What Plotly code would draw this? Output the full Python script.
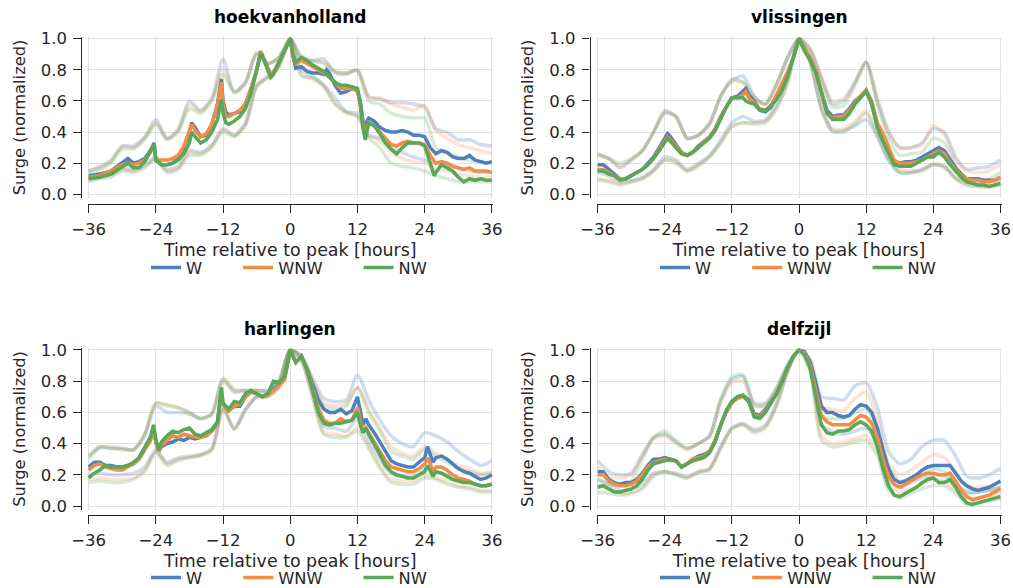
import plotly.graph_objects as go

# ---------------- data ----------------
STATIONS = ["hoekvanholland", "vlissingen", "harlingen", "delfzijl"]
DIRECTIONS = ["W", "WNW", "NW"]
TICKS_X = [-36, -24, -12, 0, 12, 24, 36]
TICKS_Y = [0.0, 0.2, 0.4, 0.6, 0.8, 1.0]

# time grid (hours) used by the faint spread lines
T_BAND = list(range(-36, 37, 2))

# ---- hoekvanholland ----
T_HOEK = [-36, -34, -32, -30, -29, -28, -27, -26, -25, -24.3,
          -24, -23, -22, -21, -20, -19, -18, -17.6, -17, -16,
          -15, -14, -13, -12.3, -12, -11.5, -11, -10, -9, -8,
          -7, -6, -5.3, -5, -4, -3.5, -3, -2, -1, 0,
          0.5, 1, 2, 3, 4, 5, 6, 6.5, 7, 8,
          9, 10, 11, 12, 12.5, 13, 13.4, 14, 15, 16,
          17, 18, 19, 20, 21, 22, 23, 24, 25, 25.7,
          26, 27, 28, 29, 30, 31, 32, 33, 34, 35, 36]
W_HOEK = [0.12, 0.13, 0.15, 0.20, 0.23, 0.20, 0.21, 0.23, 0.28, 0.33,
          0.22, 0.19, 0.19, 0.20, 0.23, 0.30, 0.40, 0.46, 0.43, 0.37,
          0.38, 0.45, 0.58, 0.74, 0.60, 0.53, 0.51, 0.52, 0.53, 0.58,
          0.68, 0.80, 0.91, 0.89, 0.80, 0.77, 0.78, 0.85, 0.92, 1.00,
          0.88, 0.81, 0.82, 0.79, 0.78, 0.78, 0.77, 0.80, 0.78, 0.70,
          0.65, 0.66, 0.68, 0.67, 0.60, 0.47, 0.45, 0.49, 0.47, 0.43,
          0.41, 0.40, 0.40, 0.41, 0.40, 0.38, 0.38, 0.37, 0.30, 0.27,
          0.26, 0.28, 0.27, 0.24, 0.23, 0.23, 0.25, 0.22, 0.21, 0.20, 0.21]
WNW_HOEK = [0.11, 0.12, 0.15, 0.19, 0.20, 0.19, 0.20, 0.22, 0.27, 0.32,
            0.22, 0.22, 0.22, 0.23, 0.25, 0.31, 0.40, 0.45, 0.41, 0.37,
            0.39, 0.45, 0.57, 0.72, 0.58, 0.50, 0.50, 0.52, 0.54, 0.58,
            0.68, 0.79, 0.92, 0.90, 0.81, 0.77, 0.78, 0.85, 0.92, 1.00,
            0.88, 0.84, 0.86, 0.84, 0.82, 0.80, 0.78, 0.77, 0.75, 0.72,
            0.68, 0.68, 0.68, 0.66, 0.58, 0.45, 0.38, 0.46, 0.44, 0.40,
            0.36, 0.32, 0.31, 0.33, 0.34, 0.33, 0.33, 0.32, 0.25, 0.21,
            0.20, 0.21, 0.20, 0.18, 0.17, 0.16, 0.17, 0.15, 0.15, 0.15, 0.14]
NW_HOEK = [0.10, 0.11, 0.13, 0.18, 0.20, 0.17, 0.17, 0.21, 0.27, 0.32,
           0.22, 0.19, 0.19, 0.20, 0.22, 0.26, 0.33, 0.40, 0.37, 0.33,
           0.35, 0.40, 0.48, 0.61, 0.52, 0.46, 0.45, 0.47, 0.50, 0.55,
           0.65, 0.79, 0.90, 0.89, 0.80, 0.75, 0.77, 0.84, 0.92, 1.00,
           0.90, 0.85, 0.88, 0.86, 0.83, 0.81, 0.79, 0.77, 0.75, 0.72,
           0.70, 0.70, 0.69, 0.68, 0.58, 0.42, 0.35, 0.46, 0.44, 0.39,
           0.33, 0.29, 0.26, 0.30, 0.33, 0.33, 0.33, 0.31, 0.20, 0.12,
           0.14, 0.19, 0.17, 0.15, 0.11, 0.08, 0.10, 0.09, 0.10, 0.09, 0.09]
W_HI_HOEK = [0.15, 0.18, 0.22, 0.31, 0.31, 0.37, 0.48, 0.36, 0.42, 0.60,
             0.54, 0.62, 0.87, 0.66, 0.72, 0.90, 0.84, 0.88, 1.00, 0.87,
             0.86, 0.87, 0.78, 0.77, 0.80, 0.63, 0.61, 0.59, 0.59, 0.58,
             0.56, 0.42, 0.40, 0.35, 0.35, 0.32, 0.31]
WNW_HI_HOEK = [0.15, 0.17, 0.21, 0.31, 0.30, 0.36, 0.46, 0.36, 0.41, 0.58,
               0.53, 0.61, 0.81, 0.66, 0.72, 0.90, 0.84, 0.88, 1.00, 0.87,
               0.85, 0.85, 0.79, 0.78, 0.80, 0.62, 0.62, 0.58, 0.56, 0.54,
               0.57, 0.41, 0.36, 0.32, 0.30, 0.28, 0.26]
NW_HI_HOEK = [0.14, 0.16, 0.20, 0.29, 0.29, 0.35, 0.45, 0.35, 0.40, 0.55,
              0.52, 0.60, 0.77, 0.65, 0.71, 0.91, 0.84, 0.88, 1.00, 0.89,
              0.86, 0.84, 0.79, 0.78, 0.79, 0.60, 0.58, 0.52, 0.50, 0.49,
              0.49, 0.30, 0.27, 0.24, 0.22, 0.21, 0.20]
W_LO_HOEK = [0.10, 0.12, 0.13, 0.17, 0.16, 0.19, 0.24, 0.16, 0.18, 0.28,
             0.27, 0.32, 0.42, 0.38, 0.46, 0.70, 0.76, 0.83, 1.00, 0.76,
             0.75, 0.70, 0.62, 0.53, 0.52, 0.38, 0.36, 0.30, 0.27, 0.24,
             0.22, 0.20, 0.19, 0.17, 0.15, 0.14, 0.14]
WNW_LO_HOEK = [0.09, 0.11, 0.12, 0.16, 0.15, 0.18, 0.23, 0.15, 0.17, 0.27,
               0.26, 0.31, 0.42, 0.38, 0.45, 0.70, 0.75, 0.82, 1.00, 0.78,
               0.74, 0.69, 0.58, 0.52, 0.50, 0.38, 0.34, 0.27, 0.23, 0.21,
               0.20, 0.16, 0.15, 0.13, 0.12, 0.11, 0.11]
NW_LO_HOEK = [0.08, 0.10, 0.11, 0.15, 0.14, 0.17, 0.22, 0.14, 0.16, 0.25,
              0.25, 0.30, 0.40, 0.37, 0.44, 0.69, 0.75, 0.82, 1.00, 0.80,
              0.76, 0.70, 0.58, 0.53, 0.50, 0.36, 0.30, 0.20, 0.18, 0.17,
              0.15, 0.12, 0.10, 0.08, 0.08, 0.08, 0.08]

# ---- vlissingen ----
T_VLIS = [-36, -35, -34, -33, -32, -31, -30, -29, -28, -27,
          -26, -25, -24, -23.5, -23, -22, -21, -20, -19, -18,
          -17, -16, -15, -14, -13, -12, -11, -10, -9.5, -9,
          -8, -7, -6, -5, -4, -3, -2, -1, 0, 1,
          2, 3, 4, 5, 6, 7, 8, 9, 10, 11,
          12, 13, 14, 15, 16, 17, 18, 19, 20, 21,
          22, 23, 24, 25, 26, 27, 28, 29, 30, 31,
          32, 33, 34, 35, 36]
W_VLIS = [0.19, 0.19, 0.16, 0.13, 0.10, 0.10, 0.12, 0.14, 0.16, 0.20,
          0.24, 0.30, 0.36, 0.39, 0.37, 0.32, 0.27, 0.25, 0.27, 0.31,
          0.34, 0.37, 0.42, 0.50, 0.56, 0.62, 0.63, 0.66, 0.68, 0.64,
          0.60, 0.54, 0.53, 0.56, 0.63, 0.70, 0.78, 0.88, 1.00, 0.93,
          0.87, 0.80, 0.66, 0.54, 0.50, 0.51, 0.51, 0.55, 0.60, 0.63,
          0.67, 0.58, 0.44, 0.38, 0.28, 0.21, 0.20, 0.21, 0.21, 0.22,
          0.24, 0.26, 0.28, 0.30, 0.28, 0.22, 0.17, 0.13, 0.10, 0.10,
          0.10, 0.09, 0.09, 0.09, 0.11]
WNW_VLIS = [0.16, 0.16, 0.14, 0.12, 0.10, 0.10, 0.12, 0.14, 0.16, 0.19,
            0.23, 0.29, 0.34, 0.37, 0.35, 0.31, 0.27, 0.25, 0.27, 0.30,
            0.34, 0.37, 0.42, 0.50, 0.56, 0.62, 0.62, 0.64, 0.66, 0.62,
            0.59, 0.55, 0.54, 0.57, 0.64, 0.71, 0.79, 0.88, 1.00, 0.94,
            0.88, 0.80, 0.65, 0.52, 0.49, 0.50, 0.50, 0.54, 0.59, 0.63,
            0.67, 0.60, 0.46, 0.39, 0.30, 0.22, 0.20, 0.20, 0.20, 0.21,
            0.22, 0.24, 0.26, 0.28, 0.26, 0.20, 0.16, 0.12, 0.10, 0.09,
            0.09, 0.08, 0.08, 0.09, 0.11]
NW_VLIS = [0.15, 0.15, 0.13, 0.12, 0.09, 0.10, 0.12, 0.14, 0.16, 0.19,
           0.23, 0.28, 0.33, 0.36, 0.34, 0.30, 0.26, 0.25, 0.27, 0.30,
           0.33, 0.36, 0.41, 0.49, 0.56, 0.62, 0.62, 0.62, 0.60, 0.59,
           0.58, 0.54, 0.54, 0.57, 0.61, 0.67, 0.76, 0.88, 1.00, 0.92,
           0.86, 0.78, 0.64, 0.52, 0.48, 0.48, 0.48, 0.52, 0.58, 0.62,
           0.66, 0.58, 0.43, 0.34, 0.26, 0.19, 0.18, 0.18, 0.18, 0.20,
           0.22, 0.24, 0.24, 0.27, 0.24, 0.19, 0.15, 0.11, 0.08, 0.07,
           0.06, 0.06, 0.05, 0.06, 0.07]
W_HI_VLIS = [0.26, 0.23, 0.17, 0.22, 0.28, 0.40, 0.52, 0.50, 0.36, 0.38,
             0.45, 0.63, 0.73, 0.76, 0.63, 0.58, 0.71, 0.88, 1.00, 0.93,
             0.75, 0.58, 0.60, 0.72, 0.85, 0.60, 0.40, 0.30, 0.30, 0.33,
             0.42, 0.40, 0.24, 0.16, 0.17, 0.18, 0.22]
WNW_HI_VLIS = [0.26, 0.23, 0.18, 0.22, 0.28, 0.40, 0.53, 0.50, 0.36, 0.38,
               0.45, 0.63, 0.72, 0.72, 0.62, 0.58, 0.71, 0.88, 1.00, 0.94,
               0.76, 0.60, 0.62, 0.72, 0.85, 0.62, 0.41, 0.30, 0.30, 0.32,
               0.44, 0.38, 0.22, 0.15, 0.14, 0.15, 0.19]
NW_HI_VLIS = [0.25, 0.23, 0.20, 0.23, 0.28, 0.40, 0.54, 0.50, 0.36, 0.38,
              0.46, 0.63, 0.74, 0.72, 0.62, 0.58, 0.70, 0.88, 1.00, 0.92,
              0.73, 0.56, 0.57, 0.70, 0.84, 0.58, 0.36, 0.25, 0.26, 0.27,
              0.36, 0.33, 0.18, 0.10, 0.09, 0.10, 0.14]
W_LO_VLIS = [0.14, 0.12, 0.08, 0.09, 0.11, 0.16, 0.24, 0.22, 0.16, 0.20,
             0.25, 0.35, 0.46, 0.50, 0.47, 0.48, 0.58, 0.74, 1.00, 0.86,
             0.56, 0.41, 0.41, 0.44, 0.48, 0.37, 0.22, 0.14, 0.14, 0.16,
             0.19, 0.18, 0.11, 0.08, 0.08, 0.08, 0.09]
WNW_LO_VLIS = [0.10, 0.09, 0.07, 0.08, 0.10, 0.15, 0.22, 0.21, 0.15, 0.19,
               0.24, 0.33, 0.44, 0.46, 0.46, 0.47, 0.56, 0.72, 1.00, 0.85,
               0.55, 0.42, 0.42, 0.47, 0.54, 0.40, 0.24, 0.16, 0.15, 0.16,
               0.20, 0.18, 0.10, 0.06, 0.05, 0.05, 0.07]
NW_LO_VLIS = [0.09, 0.08, 0.06, 0.08, 0.10, 0.15, 0.22, 0.20, 0.15, 0.18,
              0.24, 0.33, 0.43, 0.46, 0.45, 0.46, 0.55, 0.72, 1.00, 0.84,
              0.54, 0.40, 0.40, 0.45, 0.52, 0.38, 0.22, 0.14, 0.14, 0.15,
              0.19, 0.17, 0.10, 0.06, 0.05, 0.05, 0.06]

# ---- harlingen ----
T_HARL = [-36, -35, -34, -33, -32, -31, -30, -29, -28, -27,
          -26, -25, -24.4, -24, -23.5, -23, -22, -21, -20, -19,
          -18, -17, -16, -15, -14, -13, -12.3, -12, -11, -10,
          -9, -8, -7, -6, -5, -4, -3, -2, -1, 0,
          1, 2, 3, 4, 5, 6, 7, 8, 9, 10,
          11, 12, 12.5, 13, 13.5, 14, 15, 16, 17, 18,
          19, 20, 21, 22, 23, 24, 24.5, 25, 25.5, 26,
          27, 28, 29, 30, 31, 32, 33, 34, 35, 36]
W_HARL = [0.25, 0.28, 0.28, 0.26, 0.26, 0.25, 0.25, 0.26, 0.27, 0.30,
          0.36, 0.42, 0.50, 0.41, 0.35, 0.38, 0.40, 0.41, 0.43, 0.42,
          0.44, 0.43, 0.44, 0.45, 0.48, 0.53, 0.73, 0.65, 0.61, 0.64,
          0.64, 0.70, 0.73, 0.72, 0.70, 0.72, 0.75, 0.78, 0.82, 1.00,
          0.92, 0.96, 0.88, 0.78, 0.68, 0.62, 0.60, 0.60, 0.62, 0.59,
          0.61, 0.70, 0.62, 0.52, 0.56, 0.52, 0.47, 0.41, 0.34, 0.29,
          0.27, 0.26, 0.25, 0.25, 0.28, 0.31, 0.38, 0.33, 0.28, 0.31,
          0.32, 0.30, 0.27, 0.24, 0.22, 0.21, 0.19, 0.17, 0.18, 0.20]
WNW_HARL = [0.23, 0.26, 0.27, 0.25, 0.24, 0.23, 0.23, 0.25, 0.27, 0.30,
            0.36, 0.42, 0.50, 0.41, 0.35, 0.39, 0.42, 0.45, 0.44, 0.46,
            0.45, 0.44, 0.44, 0.45, 0.48, 0.53, 0.73, 0.65, 0.61, 0.64,
            0.65, 0.70, 0.73, 0.72, 0.70, 0.71, 0.74, 0.77, 0.81, 1.00,
            0.92, 0.96, 0.88, 0.76, 0.63, 0.55, 0.53, 0.53, 0.56, 0.54,
            0.55, 0.63, 0.56, 0.47, 0.50, 0.47, 0.42, 0.36, 0.29, 0.25,
            0.24, 0.23, 0.22, 0.22, 0.24, 0.27, 0.31, 0.27, 0.22, 0.25,
            0.25, 0.23, 0.20, 0.18, 0.17, 0.16, 0.14, 0.13, 0.13, 0.14]
NW_HARL = [0.18, 0.21, 0.23, 0.26, 0.25, 0.25, 0.25, 0.26, 0.28, 0.31,
           0.37, 0.44, 0.52, 0.43, 0.36, 0.41, 0.45, 0.48, 0.47, 0.49,
           0.50, 0.46, 0.45, 0.47, 0.49, 0.54, 0.76, 0.66, 0.62, 0.67,
           0.66, 0.72, 0.74, 0.72, 0.70, 0.72, 0.80, 0.79, 0.83, 1.00,
           0.92, 0.96, 0.87, 0.74, 0.60, 0.53, 0.52, 0.53, 0.53, 0.54,
           0.55, 0.60, 0.52, 0.47, 0.50, 0.46, 0.40, 0.33, 0.26, 0.22,
           0.20, 0.19, 0.18, 0.18, 0.20, 0.22, 0.26, 0.22, 0.19, 0.22,
           0.21, 0.19, 0.17, 0.16, 0.15, 0.15, 0.14, 0.13, 0.13, 0.14]
W_HI_HARL = [0.32, 0.38, 0.37, 0.37, 0.36, 0.45, 0.64, 0.60, 0.60, 0.59,
             0.56, 0.59, 0.80, 0.73, 0.74, 0.74, 0.74, 0.80, 1.00, 0.96,
             0.82, 0.69, 0.67, 0.68, 0.84, 0.68, 0.55, 0.45, 0.40, 0.38,
             0.47, 0.45, 0.41, 0.35, 0.30, 0.26, 0.29]
WNW_HI_HARL = [0.32, 0.38, 0.38, 0.37, 0.36, 0.46, 0.66, 0.64, 0.63, 0.60,
               0.56, 0.59, 0.81, 0.74, 0.74, 0.74, 0.74, 0.80, 1.00, 0.96,
               0.80, 0.66, 0.64, 0.66, 0.76, 0.62, 0.50, 0.38, 0.34, 0.32,
               0.38, 0.34, 0.30, 0.26, 0.24, 0.21, 0.22]
NW_HI_HARL = [0.30, 0.37, 0.37, 0.36, 0.36, 0.46, 0.66, 0.65, 0.63, 0.60,
              0.56, 0.59, 0.82, 0.75, 0.74, 0.74, 0.74, 0.81, 1.00, 0.96,
              0.79, 0.64, 0.62, 0.64, 0.76, 0.60, 0.48, 0.35, 0.32, 0.30,
              0.36, 0.32, 0.28, 0.24, 0.22, 0.20, 0.21]
W_LO_HARL = [0.20, 0.21, 0.20, 0.20, 0.21, 0.25, 0.36, 0.28, 0.31, 0.32,
             0.33, 0.37, 0.62, 0.50, 0.62, 0.70, 0.71, 0.77, 1.00, 0.94,
             0.72, 0.51, 0.50, 0.48, 0.56, 0.42, 0.30, 0.21, 0.19, 0.19,
             0.24, 0.22, 0.20, 0.17, 0.15, 0.13, 0.14]
WNW_LO_HARL = [0.17, 0.18, 0.17, 0.17, 0.18, 0.23, 0.35, 0.27, 0.30, 0.31,
               0.33, 0.36, 0.62, 0.49, 0.62, 0.70, 0.70, 0.76, 1.00, 0.93,
               0.70, 0.47, 0.46, 0.45, 0.50, 0.39, 0.26, 0.17, 0.16, 0.16,
               0.20, 0.18, 0.16, 0.13, 0.12, 0.10, 0.10]
NW_LO_HARL = [0.15, 0.16, 0.15, 0.15, 0.17, 0.22, 0.34, 0.26, 0.29, 0.31,
              0.32, 0.36, 0.63, 0.49, 0.61, 0.70, 0.70, 0.76, 1.00, 0.93,
              0.69, 0.46, 0.44, 0.44, 0.48, 0.37, 0.24, 0.15, 0.14, 0.14,
              0.18, 0.17, 0.14, 0.12, 0.11, 0.09, 0.09]

# ---- delfzijl ----
T_DELF = list(range(-36, 37))
W_DELF = [0.22, 0.22, 0.17, 0.15, 0.14, 0.15, 0.15, 0.17, 0.21, 0.26,
          0.30, 0.30, 0.31, 0.30, 0.29, 0.25, 0.27, 0.30, 0.32, 0.33,
          0.35, 0.42, 0.52, 0.61, 0.67, 0.70, 0.71, 0.68, 0.59, 0.58,
          0.62, 0.67, 0.72, 0.80, 0.89, 0.96, 1.00, 0.99, 0.92, 0.79,
          0.64, 0.60, 0.60, 0.58, 0.57, 0.58, 0.62, 0.65, 0.64, 0.60,
          0.50, 0.36, 0.24, 0.17, 0.15, 0.16, 0.18, 0.20, 0.23, 0.25,
          0.26, 0.26, 0.26, 0.26, 0.21, 0.16, 0.13, 0.11, 0.10, 0.11,
          0.12, 0.14, 0.16]
WNW_DELF = [0.20, 0.20, 0.16, 0.14, 0.13, 0.13, 0.14, 0.16, 0.20, 0.25,
            0.28, 0.29, 0.30, 0.29, 0.29, 0.25, 0.27, 0.30, 0.31, 0.32,
            0.35, 0.42, 0.52, 0.60, 0.66, 0.69, 0.70, 0.67, 0.58, 0.57,
            0.61, 0.66, 0.72, 0.80, 0.89, 0.96, 1.00, 0.98, 0.90, 0.74,
            0.58, 0.54, 0.52, 0.52, 0.52, 0.52, 0.55, 0.58, 0.57, 0.53,
            0.44, 0.30, 0.19, 0.14, 0.12, 0.14, 0.16, 0.18, 0.20, 0.21,
            0.21, 0.20, 0.20, 0.21, 0.16, 0.10, 0.06, 0.04, 0.05, 0.06,
            0.07, 0.09, 0.11]
NW_DELF = [0.12, 0.13, 0.11, 0.09, 0.09, 0.10, 0.11, 0.13, 0.17, 0.23,
           0.27, 0.28, 0.29, 0.30, 0.29, 0.25, 0.27, 0.29, 0.30, 0.31,
           0.34, 0.41, 0.52, 0.61, 0.67, 0.70, 0.71, 0.67, 0.57, 0.56,
           0.60, 0.66, 0.72, 0.80, 0.89, 0.96, 1.00, 0.97, 0.88, 0.70,
           0.52, 0.47, 0.46, 0.48, 0.48, 0.49, 0.52, 0.54, 0.52, 0.48,
           0.38, 0.24, 0.13, 0.07, 0.06, 0.08, 0.10, 0.12, 0.15, 0.17,
           0.18, 0.15, 0.15, 0.17, 0.12, 0.06, 0.02, 0.01, 0.02, 0.03,
           0.04, 0.05, 0.06]
W_HI_DELF = [0.29, 0.22, 0.20, 0.21, 0.33, 0.44, 0.46, 0.41, 0.37, 0.40,
             0.45, 0.68, 0.81, 0.83, 0.66, 0.66, 0.76, 0.91, 1.00, 0.94,
             0.70, 0.69, 0.68, 0.77, 0.79, 0.63, 0.35, 0.27, 0.30, 0.38,
             0.42, 0.42, 0.32, 0.19, 0.18, 0.20, 0.24]
WNW_HI_DELF = [0.25, 0.19, 0.18, 0.20, 0.32, 0.43, 0.45, 0.40, 0.36, 0.40,
               0.44, 0.66, 0.79, 0.80, 0.64, 0.65, 0.75, 0.90, 1.00, 0.93,
               0.64, 0.62, 0.61, 0.69, 0.73, 0.55, 0.27, 0.20, 0.23, 0.28,
               0.33, 0.31, 0.22, 0.11, 0.12, 0.13, 0.15]
NW_HI_DELF = [0.17, 0.14, 0.13, 0.16, 0.30, 0.44, 0.48, 0.42, 0.37, 0.40,
              0.45, 0.68, 0.83, 0.84, 0.65, 0.64, 0.75, 0.90, 1.00, 0.92,
              0.58, 0.56, 0.56, 0.60, 0.62, 0.50, 0.25, 0.16, 0.17, 0.20,
              0.24, 0.22, 0.15, 0.08, 0.09, 0.10, 0.12]
W_LO_DELF = [0.17, 0.14, 0.10, 0.11, 0.14, 0.21, 0.22, 0.21, 0.19, 0.22,
             0.24, 0.38, 0.50, 0.53, 0.49, 0.52, 0.66, 0.87, 1.00, 0.89,
             0.52, 0.48, 0.46, 0.48, 0.50, 0.40, 0.16, 0.12, 0.15, 0.18,
             0.20, 0.19, 0.14, 0.09, 0.09, 0.10, 0.12]
WNW_LO_DELF = [0.14, 0.11, 0.08, 0.09, 0.12, 0.20, 0.22, 0.20, 0.18, 0.22,
               0.24, 0.37, 0.49, 0.52, 0.48, 0.51, 0.65, 0.87, 1.00, 0.88,
               0.45, 0.40, 0.41, 0.43, 0.45, 0.36, 0.12, 0.09, 0.11, 0.14,
               0.17, 0.16, 0.10, 0.05, 0.05, 0.06, 0.08]
NW_LO_DELF = [0.09, 0.08, 0.07, 0.08, 0.11, 0.19, 0.22, 0.20, 0.18, 0.21,
              0.23, 0.37, 0.50, 0.52, 0.47, 0.50, 0.64, 0.86, 1.00, 0.86,
              0.42, 0.38, 0.39, 0.41, 0.42, 0.32, 0.10, 0.05, 0.08, 0.11,
              0.13, 0.13, 0.08, 0.01, 0.02, 0.03, 0.05]

# ---------------- assembly ----------------
MAIN = {
    "hoekvanholland": (T_HOEK, [W_HOEK, WNW_HOEK, NW_HOEK]),
    "vlissingen": (T_VLIS, [W_VLIS, WNW_VLIS, NW_VLIS]),
    "harlingen": (T_HARL, [W_HARL, WNW_HARL, NW_HARL]),
    "delfzijl": (T_DELF, [W_DELF, WNW_DELF, NW_DELF]),
}
BANDS = {
    "hoekvanholland": [(W_HI_HOEK, W_LO_HOEK), (WNW_HI_HOEK, WNW_LO_HOEK), (NW_HI_HOEK, NW_LO_HOEK)],
    "vlissingen": [(W_HI_VLIS, W_LO_VLIS), (WNW_HI_VLIS, WNW_LO_VLIS), (NW_HI_VLIS, NW_LO_VLIS)],
    "harlingen": [(W_HI_HARL, W_LO_HARL), (WNW_HI_HARL, WNW_LO_HARL), (NW_HI_HARL, NW_LO_HARL)],
    "delfzijl": [(W_HI_DELF, W_LO_DELF), (WNW_HI_DELF, WNW_LO_DELF), (NW_HI_DELF, NW_LO_DELF)],
}
for st in STATIONS:
    t, vals = MAIN[st]
    for v in vals:
        assert len(v) == len(t), (st, len(v), len(t))
    for hi, lo in BANDS[st]:
        assert len(hi) == len(T_BAND) and len(lo) == len(T_BAND), st

# ---------------- style / geometry ----------------
FIG_W, FIG_H = 1013, 588
FONT = "DejaVu Sans"
FS_TICK = 16.5
FS_XT = 17.4
FS_YT = 16.3
FS_TITLE = 17.0
FS_LEG = 16.3
INK = "#262626"
GRID = "#e2e2e2"
COLORS = ["#4f80be", "#f48c45", "#57a857"]
FAINT = ["rgba(79,128,190,0.27)", "rgba(244,140,69,0.24)", "rgba(87,168,87,0.24)"]


def px(x):
    return x / FIG_W


def py(y):
    return 1 - y / FIG_H


# pixel geometry of each panel: plot area, spine offsets, title and legend rows
PANEL_GEOM = [
    dict(x0=87.5, x1=493.0, ytop=37.1, ybot=197.9, yspine=81.0, xspine=204.0, title=17, leg=268),
    dict(x0=596.5, x1=1001.5, ytop=37.1, ybot=197.9, yspine=589.5, xspine=204.0, title=17, leg=268),
    dict(x0=87.5, x1=493.0, ytop=348.4, ybot=509.6, yspine=81.0, xspine=515.0, title=329, leg=578),
    dict(x0=596.5, x1=1001.5, ytop=348.4, ybot=509.6, yspine=589.5, xspine=515.0, title=329, leg=578),
]
PAD = "\u00a0" * 6
LEG_NAMES = ["W" + PAD, "WNW" + PAD, "NW"]

fig = go.Figure()
layout = dict(
    width=FIG_W, height=FIG_H,
    # no automatic margin growth: the lower legends may run off the bottom edge
    margin=dict(l=0, r=0, t=0, b=0, autoexpand=False),
    paper_bgcolor="white", plot_bgcolor="white",
    font=dict(family=FONT, size=FS_TICK, color=INK),
    annotations=[],
)

for k, st in enumerate(STATIONS):
    g = PANEL_GEOM[k]
    sfx = "" if k == 0 else str(k + 1)
    xref, yref = "x" + sfx, "y" + sfx
    leg = "legend" + sfx
    t, vals = MAIN[st]
    # faint spread lines
    for j, (hi, lo) in enumerate(BANDS[st]):
        for band in (hi, lo):
            fig.add_trace(go.Scatter(
                x=T_BAND, y=band, mode="lines", xaxis=xref, yaxis=yref,
                line=dict(color=FAINT[j], width=3.5, shape="spline", smoothing=0.7),
                showlegend=False, hoverinfo="skip"))
    # main lines
    for j, v in enumerate(vals):
        fig.add_trace(go.Scatter(
            x=t, y=v, mode="lines", xaxis=xref, yaxis=yref,
            line=dict(color=COLORS[j], width=3.5), name=LEG_NAMES[j],
            legend=leg, showlegend=True))

    axis_common = dict(
        anchor="free", ticks="outside", ticklen=7.5, tickwidth=1.25, tickcolor=INK,
        ticklabelstandoff=3,
        showline=True, linecolor=INK, linewidth=1.25,
        showgrid=True, gridcolor=GRID, gridwidth=1, zeroline=False,
        tickfont=dict(family=FONT, size=FS_TICK, color=INK), automargin=False,
    )
    layout["xaxis" + sfx] = dict(
        axis_common,
        domain=[px(g["x0"]), px(g["x1"])],
        position=py(g["xspine"]),
        range=[-36.2, 36.2], tickmode="array", tickvals=TICKS_X,
        title=dict(text="Time relative to peak [hours]",
                   font=dict(family=FONT, size=FS_XT, color=INK), standoff=5),
    )
    layout["yaxis" + sfx] = dict(
        axis_common,
        domain=[py(g["ybot"]), py(g["ytop"])],
        position=px(g["yspine"]),
        range=[-0.023, 1.01], tickmode="array", tickvals=TICKS_Y, tickformat=".1f",
        title=dict(text="Surge (normalized)",
                   font=dict(family=FONT, size=FS_YT, color=INK), standoff=10),
    )
    layout[leg] = dict(
        orientation="h", x=px(g["x0"] + 58.5), y=py(g["leg"]),
        xanchor="left", yanchor="middle", bgcolor="rgba(0,0,0,0)",
        font=dict(family=FONT, size=FS_LEG, color=INK), borderwidth=0,
        itemclick=False, itemdoubleclick=False,
    )
    layout["annotations"].append(dict(
        text="<b>" + st + "</b>", x=px((g["x0"] + g["x1"]) / 2),
        y=py(g["title"]), xref="paper", yref="paper", showarrow=False,
        xanchor="center", yanchor="middle",
        font=dict(family=FONT, size=FS_TITLE, color="black")))

fig.update_layout(**layout)
# remove the default page margin and clip anything past the figure edge
fig.write_html(
    "out.html",
    config={"displayModeBar": False},
    post_script=("document.body.style.margin='0';"
                 "document.body.style.overflow='hidden';"
                 "document.documentElement.style.overflow='hidden';"
                 "var gd=document.getElementById('{plot_id}');"
                 "gd.style.overflow='hidden';"),
)
